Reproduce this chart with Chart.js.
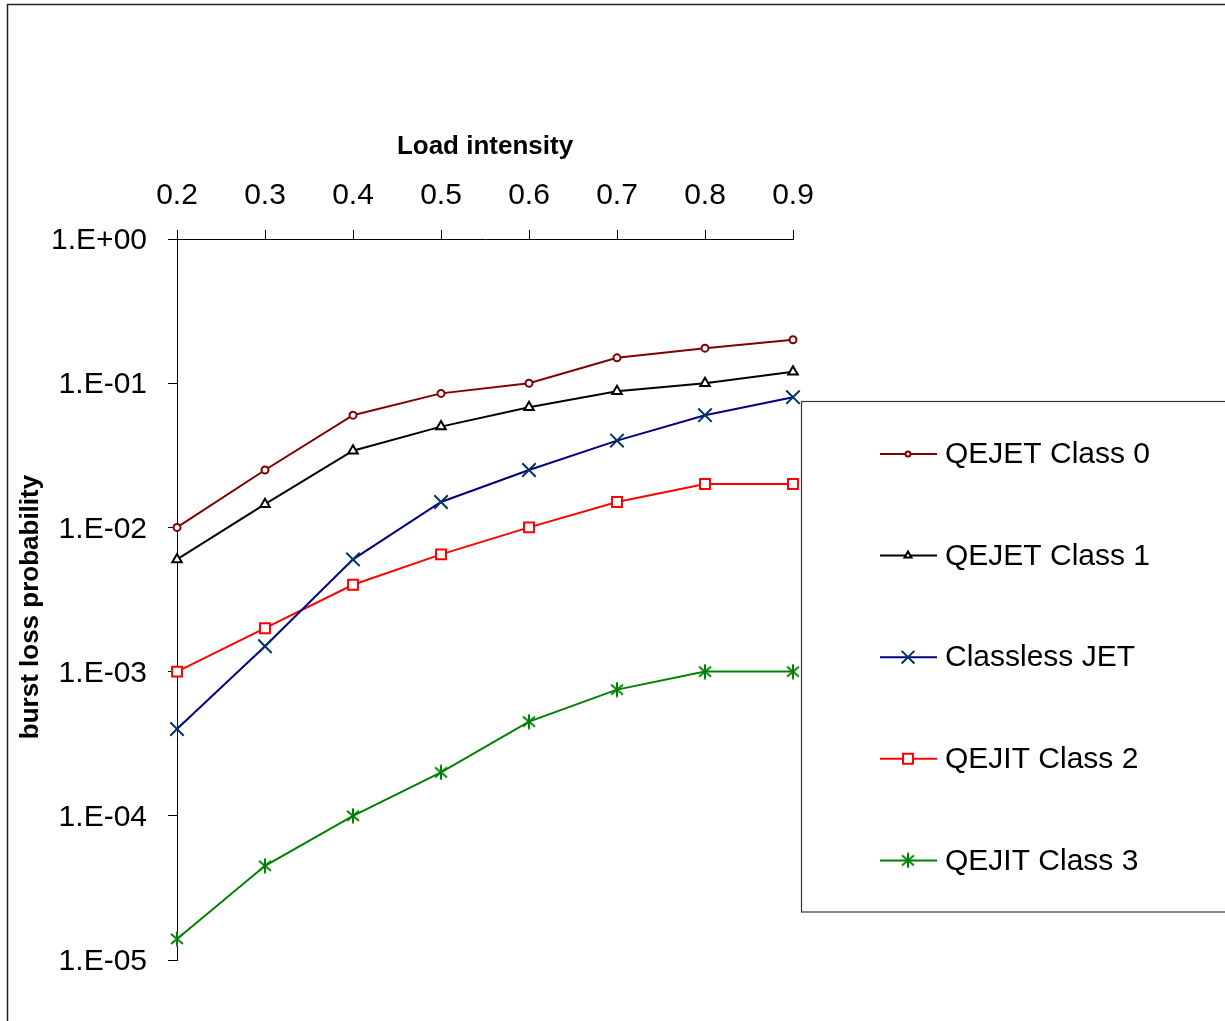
<!DOCTYPE html>
<html>
<head>
<meta charset="utf-8">
<script src="https://cdn.jsdelivr.net/npm/chart.js@4.4.1/dist/chart.umd.min.js"></script>
<style>
  html, body { margin: 0; padding: 0; background: #fff; }
  #wrap { width: 1225px; height: 1021px; position: relative; }
</style>
</head>
<body>
<div id="wrap"><canvas id="c" width="1225" height="1021"></canvas></div>
<script>
const loadIntensity = [0.2, 0.3, 0.4, 0.5, 0.6, 0.7, 0.8, 0.9];
const qejetClass0 = [0.01, 0.025, 0.06, 0.085, 0.1, 0.15, 0.175, 0.2];
const qejetClass1 = [0.006, 0.0145, 0.034, 0.05, 0.068, 0.088, 0.1, 0.12];
const classlessJet = [0.0004, 0.0015, 0.006, 0.015, 0.025, 0.04, 0.06, 0.08];
const qejitClass2 = [0.001, 0.002, 0.004, 0.0065, 0.01, 0.015, 0.02, 0.02];
const qejitClass3 = [0.000014, 0.000045, 0.0001, 0.0002, 0.00045, 0.00075, 0.001, 0.001];
const yTicks = [1, 0.1, 0.01, 0.001, 0.0001, 0.00001];
const yTickLabels = ['1.E+00', '1.E-01', '1.E-02', '1.E-03', '1.E-04', '1.E-05'];
const xTickLabels = ['0.2', '0.3', '0.4', '0.5', '0.6', '0.7', '0.8', '0.9'];

const FONT = '"Liberation Sans", Arial, sans-serif';

// Excel-like asterisk marker (X plus vertical bar)
function asterisk(color) {
  const c = document.createElement('canvas');
  c.width = 16; c.height = 16;
  const g = c.getContext('2d');
  g.strokeStyle = color; g.lineWidth = 2;
  g.beginPath();
  g.moveTo(2, 3); g.lineTo(14, 13);
  g.moveTo(14, 3); g.lineTo(2, 13);
  g.moveTo(8, 0.5); g.lineTo(8, 15.5);
  g.stroke();
  return c;
}

const pts = arr => arr.map((v, i) => ({ x: loadIntensity[i], y: v }));

const series = [
  { label: 'QEJET Class 0', data: qejetClass0, line: '#800000', mark: '#800000', style: 'circle', r: 3.5, lr: 2.5 },
  { label: 'QEJET Class 1', data: qejetClass1, line: '#000000', mark: '#000000', style: 'triangle', r: 5.5, lr: 4 },
  { label: 'Classless JET', data: classlessJet, line: '#000080', mark: '#003366', style: 'crossRot', r: 9.5, lr: 9 },
  { label: 'QEJIT Class 2', data: qejitClass2, line: '#ff0000', mark: '#ff0000', style: 'rect', r: 7, lr: 7 },
  { label: 'QEJIT Class 3', data: qejitClass3, line: '#008000', mark: '#008000', style: asterisk('#008000'), r: 8, lr: 8 },
];

function drawMarker(ctx, s, x, y, r) {
  ctx.save();
  ctx.strokeStyle = s.mark; ctx.fillStyle = '#fff'; ctx.lineWidth = 2;
  if (Chart.helpers && Chart.helpers.drawPoint) {
    Chart.helpers.drawPoint(ctx, { pointStyle: s.style, radius: r, borderWidth: 2, rotation: 0 }, x, y);
  }
  ctx.restore();
}

// frame, y title, legend box
const extras = {
  id: 'extras',
  afterDraw(chart) {
    const ctx = chart.ctx;
    ctx.save();
    ctx.strokeStyle = '#222'; ctx.lineWidth = 1.5;
    ctx.strokeRect(7.5, 4.5, 1400, 1200);

    // y axis title, sits a little below the axis centre like the original
    ctx.save();
    ctx.translate(31, 607);
    ctx.rotate(-Math.PI / 2);
    ctx.fillStyle = '#000';
    ctx.font = 'bold 26px ' + FONT;
    ctx.textAlign = 'center';
    ctx.textBaseline = 'middle';
    ctx.fillText('burst loss probability', 0, 0);
    ctx.restore();

    ctx.fillStyle = '#fff';
    ctx.fillRect(801.5, 401.5, 500, 510.5);
    ctx.lineWidth = 1.2; ctx.strokeStyle = '#333';
    ctx.strokeRect(801.5, 401.5, 500, 510.5);
    series.forEach((s, i) => {
      const y = 454 + i * 101.6;
      ctx.strokeStyle = s.line; ctx.lineWidth = 2;
      ctx.beginPath(); ctx.moveTo(880, y); ctx.lineTo(937, y); ctx.stroke();
      drawMarker(ctx, s, 908, y, s.lr);
      ctx.fillStyle = '#000';
      ctx.font = '30px ' + FONT;
      ctx.textBaseline = 'middle';
      ctx.textAlign = 'left';
      ctx.fillText(s.label, 945, y + 1);
    });
    ctx.restore();
  }
};

new Chart(document.getElementById('c'), {
  type: 'line',
  data: {
    datasets: series.map(s => ({
      label: s.label,
      data: pts(s.data),
      borderColor: s.line,
      borderWidth: 2,
      pointStyle: s.style,
      pointRadius: s.r,
      pointHoverRadius: s.r,
      pointBorderColor: s.mark,
      pointBackgroundColor: '#fff',
      pointBorderWidth: 2,
      tension: 0,
      clip: false,
    })),
  },
  options: {
    responsive: false,
    animation: false,
    events: [],
    layout: { padding: { left: 0, top: 0, right: 432, bottom: 61 } },
    plugins: { legend: { display: false }, tooltip: { enabled: false } },
    scales: {
      x: {
        type: 'linear', position: 'top', min: 0.2, max: 0.9,
        afterBuildTicks: sc => { sc.ticks = loadIntensity.map(v => ({ value: v })); },
        afterFit: sc => { sc.height = 239; },
        ticks: {
          padding: 16, color: '#000', font: { family: FONT, size: 30 },
          maxRotation: 0, autoSkip: false,
          callback: (v, i) => xTickLabels[i],
        },
        grid: { drawOnChartArea: false, drawTicks: true, tickLength: 9, color: '#000', lineWidth: 1 },
        border: { display: true, color: '#000', width: 1 },
        title: { display: true, text: 'Load intensity', color: '#000', font: { family: FONT, size: 26, weight: 'bold' }, padding: { top: 131, bottom: 0 } },
      },
      y: {
        type: 'logarithmic', min: 0.00001, max: 1,
        afterBuildTicks: sc => { sc.ticks = yTicks.map(v => ({ value: v })); },
        afterFit: sc => { sc.width = 177; },
        ticks: {
          padding: 21, labelOffset: 2, color: '#000', font: { family: FONT, size: 30 }, autoSkip: false,
          callback: v => yTickLabels[yTicks.findIndex(t => Math.abs(Math.log10(t) - Math.log10(v)) < 1e-6)],
        },
        grid: { drawOnChartArea: false, drawTicks: true, tickLength: 9, color: '#000', lineWidth: 1 },
        border: { display: true, color: '#000', width: 1 },
        title: { display: false },
      },
    },
  },
  plugins: [extras],
});
</script>
</body>
</html>
